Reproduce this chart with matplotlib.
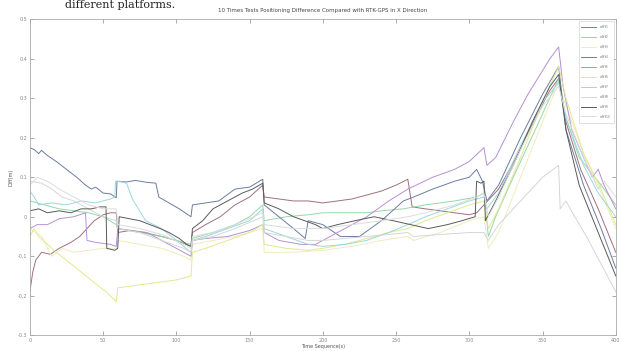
import matplotlib
matplotlib.use("Agg")
import matplotlib.pyplot as plt

# time stamps (s) and position differences (m)
t1 = [0, 2, 4, 8, 14, 20, 28, 34, 39, 44, 50, 55, 59, 60, 68, 78, 90, 100, 110, 111, 120, 130, 140, 150, 159, 160,
      170, 180, 190, 200, 210, 220, 230, 240, 250, 258, 261, 270, 280, 290, 300, 305, 310, 320, 332, 345, 355, 361,
      366, 376, 388, 400]
d1 = [-0.19, -0.14, -0.11, -0.09, -0.095, -0.08, -0.065, -0.05, -0.03, -0.01, 0.005, 0.01, 0.01, -0.04, -0.035,
      -0.04, -0.05, -0.06, -0.075, -0.04, -0.02, 0.0, 0.03, 0.05, 0.08, 0.05, 0.045, 0.04, 0.04, 0.035, 0.04, 0.045,
      0.055, 0.065, 0.08, 0.095, 0.025, 0.02, 0.015, 0.01, 0.005, 0.01, 0.03, 0.07, 0.15, 0.25, 0.32, 0.35, 0.24,
      0.12, 0.02, -0.09]

t2 = [0, 10, 20, 30, 40, 50, 59, 60, 75, 90, 100, 110, 111, 125, 140, 150, 159, 160, 175, 190, 200, 215, 230, 240,
      255, 270, 290, 305, 310, 313, 318, 330, 345, 361, 366, 375, 390, 400]
d2 = [0.04, 0.03, 0.02, 0.015, 0.01, 0.0, -0.02, -0.03, -0.04, -0.05, -0.06, -0.07, -0.055, -0.04, -0.02, 0.0, 0.03,
      -0.01, 0.0, 0.005, 0.01, 0.01, 0.01, 0.015, 0.02, 0.03, 0.04, 0.05, 0.06, -0.05, 0.0, 0.1, 0.22, 0.35, 0.25,
      0.15, 0.08, 0.03]

t3 = [0, 8, 15, 22, 30, 40, 50, 59, 60, 75, 90, 105, 110, 111, 125, 140, 159, 160, 180, 200, 220, 240, 258, 262,
      280, 300, 310, 313, 320, 335, 350, 361, 366, 378, 390, 400]
d3 = [-0.03, -0.05, -0.1, -0.08, -0.09, -0.085, -0.08, -0.08, -0.06, -0.07, -0.08, -0.1, -0.11, -0.07, -0.06, -0.05,
      -0.03, -0.09, -0.09, -0.085, -0.075, -0.06, -0.05, -0.06, -0.04, -0.01, 0.0, -0.08, -0.04, 0.1, 0.24, 0.34,
      0.28, 0.16, 0.06, -0.03]

t4 = [0, 3, 6, 8, 12, 18, 25, 32, 38, 42, 45, 50, 55, 59, 59.5, 66, 72, 80, 86, 88, 95, 102, 110, 111, 120, 129,
      140, 150, 159, 160, 170, 180, 188, 190, 200, 212, 225, 240, 255, 262, 275, 290, 300, 305, 309, 312, 320, 335,
      350, 361, 366, 378, 390, 400]
d4 = [0.175, 0.17, 0.16, 0.168, 0.155, 0.14, 0.12, 0.1, 0.08, 0.07, 0.075, 0.06, 0.058, 0.048, 0.09, 0.088, 0.092,
      0.087, 0.085, 0.05, 0.035, 0.02, 0.0, 0.03, 0.035, 0.04, 0.07, 0.075, 0.095, 0.03, 0.0, -0.03, -0.055, -0.01,
      -0.02, -0.05, -0.05, -0.01, 0.04, 0.05, 0.07, 0.09, 0.1, 0.12, 0.09, 0.04, 0.08, 0.2, 0.31, 0.38, 0.22, 0.08,
      -0.03, -0.13]

t5 = [0, 5, 12, 20, 30, 38, 39, 45, 55, 59, 60, 70, 80, 90, 100, 110, 111, 120, 135, 150, 159, 160, 170, 185, 195,
      205, 215, 230, 245, 258, 275, 290, 300, 310, 312, 318, 330, 340, 350, 355, 361, 364, 370, 378, 384, 388, 392,
      400]
d5 = [-0.03, -0.02, -0.02, -0.005, 0.0, 0.01, -0.06, -0.065, -0.07, -0.075, -0.03, -0.035, -0.04, -0.06, -0.08,
      -0.1, -0.06, -0.055, -0.05, -0.035, -0.02, -0.04, -0.06, -0.07, -0.07, -0.05, -0.03, 0.0, 0.04, 0.07, 0.1,
      0.12, 0.14, 0.175, 0.13, 0.15, 0.24, 0.31, 0.37, 0.4, 0.43, 0.33, 0.22, 0.15, 0.1, 0.12, 0.08, 0.02]

t6 = [0, 3, 6, 12, 18, 25, 35, 45, 52, 59, 60, 70, 80, 90, 100, 110, 111, 120, 135, 150, 159, 160, 175, 190, 200,
      215, 230, 245, 258, 270, 285, 300, 310, 313, 320, 335, 350, 361, 366, 378, 390, 400]
d6 = [-0.05, -0.03, -0.05, -0.07, -0.09, -0.11, -0.14, -0.17, -0.19, -0.215, -0.18, -0.175, -0.17, -0.165, -0.16,
      -0.15, -0.09, -0.08, -0.06, -0.04, -0.02, -0.07, -0.08, -0.085, -0.08, -0.07, -0.055, -0.04, -0.03, -0.01,
      0.01, 0.03, 0.04, -0.03, 0.02, 0.15, 0.29, 0.38, 0.3, 0.16, 0.07, -0.02]

t7 = [0, 3, 6, 15, 25, 35, 45, 55, 58, 58.5, 63, 66, 70, 79, 90, 100, 110, 111, 120, 135, 150, 159, 160, 175, 190,
      200, 215, 230, 245, 258, 270, 285, 300, 310, 312, 320, 335, 350, 361, 366, 378, 388, 400]
d7 = [0.065, 0.05, 0.03, 0.035, 0.03, 0.04, 0.035, 0.045, 0.05, 0.09, 0.088, 0.085, 0.045, -0.01, -0.03, -0.06,
      -0.09, -0.06, -0.05, -0.03, -0.01, 0.02, -0.03, -0.05, -0.07, -0.075, -0.07, -0.06, -0.04, -0.02, 0.0, 0.02,
      0.04, 0.05, 0.02, 0.06, 0.18, 0.29, 0.34, 0.25, 0.13, 0.06, 0.0]

t8 = [0, 8, 15, 22, 30, 40, 50, 59, 60, 75, 90, 105, 110, 111, 125, 140, 159, 160, 175, 190, 200, 215, 230, 245,
      258, 262, 280, 300, 310, 313, 320, 330, 340, 350, 361, 362, 366, 372, 380, 390, 400]
d8 = [0.09, 0.085, 0.07, 0.05, 0.04, 0.02, 0.0, -0.01, -0.03, -0.04, -0.06, -0.08, -0.09, -0.06, -0.05, -0.03, 0.0,
      -0.04, -0.05, -0.06, -0.06, -0.055, -0.05, -0.045, -0.04, -0.05, -0.045, -0.04, -0.04, -0.06, -0.02, 0.02,
      0.06, 0.1, 0.13, 0.02, 0.04, 0.0, -0.05, -0.12, -0.19]

t9 = [0, 6, 12, 20, 28, 35, 42, 48, 52, 52.5, 58, 60, 61, 68, 75, 82, 89, 95, 102, 107, 110, 111, 118, 125, 135,
      145, 152, 159, 160, 170, 180, 195, 200, 210, 222, 235, 248, 260, 272, 285, 295, 304, 305, 308, 310, 311, 318,
      330, 343, 355, 361, 366, 375, 388, 400]
d9 = [0.015, 0.02, 0.01, 0.015, 0.01, 0.02, 0.02, 0.025, 0.025, -0.08, -0.085, -0.08, 0.0, -0.005, -0.01, -0.02,
      -0.03, -0.04, -0.055, -0.07, -0.075, -0.03, -0.01, 0.02, 0.04, 0.06, 0.07, 0.085, 0.035, 0.02, 0.0, -0.02,
      -0.03, -0.02, -0.01, 0.0, -0.01, -0.02, -0.03, -0.02, -0.01, 0.0, 0.09, 0.085, 0.09, -0.01, 0.04, 0.13, 0.24,
      0.33, 0.36, 0.22, 0.08, -0.04, -0.15]

t10 = [0, 5, 12, 20, 30, 40, 50, 59, 60, 75, 90, 105, 110, 111, 125, 140, 159, 160, 180, 200, 220, 240, 258, 270,
       290, 305, 310, 313, 320, 335, 350, 361, 366, 378, 388, 392, 400]
d10 = [0.08, 0.1, 0.09, 0.07, 0.05, 0.03, 0.02, 0.02, -0.02, -0.03, -0.045, -0.07, -0.08, -0.05, -0.04, -0.02, 0.01,
       -0.02, -0.03, -0.03, -0.02, -0.01, 0.0, 0.01, 0.03, 0.05, 0.06, 0.0, 0.05, 0.17, 0.28, 0.33, 0.26, 0.15, 0.07,
       0.09, 0.05]

labels = ['diff$_1$', 'diff$_2$', 'diff$_3$', 'diff$_4$', 'diff$_5$', 'diff$_6$', 'diff$_7$', 'diff$_8$',
          'diff$_9$', 'diff$_{10}$']
colors = ['#a0707c', '#95d8a8', '#f0ecbc', '#6c7ca0', '#b590d4', '#e2e890', '#9ad8dc', '#d6d6d6', '#5a5a5a',
          '#dcdcdc']

fig = plt.figure(figsize=(6.22, 3.51), dpi=100)
ax = fig.add_axes([0.048, 0.045, 0.942, 0.9])

series = [(t1, d1), (t2, d2), (t3, d3), (t4, d4), (t5, d5), (t6, d6), (t7, d7), (t8, d8), (t9, d9), (t10, d10)]
for (t, d), lab, c in zip(series, labels, colors):
    ax.plot(t, d, color=c, lw=0.7, label=lab)

ax.set_xlim(0, 400)
ax.set_ylim(-0.3, 0.5)
ax.set_xticks(range(0, 401, 50))
ax.set_yticks([-0.3, -0.2, -0.1, 0, 0.1, 0.2, 0.3, 0.4, 0.5])
ax.set_yticklabels(['-0.3', '-0.2', '-0.1', '0', '0.1', '0.2', '0.3', '0.4', '0.5'])
ax.tick_params(direction='in', labelsize=3.5, length=3, width=0.5, colors='#888888',
               top=True, right=True, pad=2)
for s in ax.spines.values():
    s.set_color('#aaaaaa')
    s.set_linewidth(0.6)

ax.set_title('10 Times Tests Positioning Difference Compared with RTK-GPS in X Direction',
             fontsize=4, color='#444444', pad=5)
ax.set_xlabel('Time Sequence(s)', fontsize=3.5, color='#555555', labelpad=1)
ax.set_ylabel('Diff(m)', fontsize=3.5, color='#555555', labelpad=3)

leg = ax.legend(loc='upper right', fontsize=3, handlelength=3.5, labelspacing=0.55,
                borderpad=0.6, frameon=True, fancybox=False)
leg.get_frame().set_linewidth(0.4)
leg.get_frame().set_edgecolor('#bbbbbb')
for txt in leg.get_texts():
    txt.set_color('#777777')

fig.text(0.105, 0.999, 'different platforms.', family='DejaVu Serif', fontsize=8, va='top',
         color='#222222')

fig.savefig('out.png', dpi=100)
